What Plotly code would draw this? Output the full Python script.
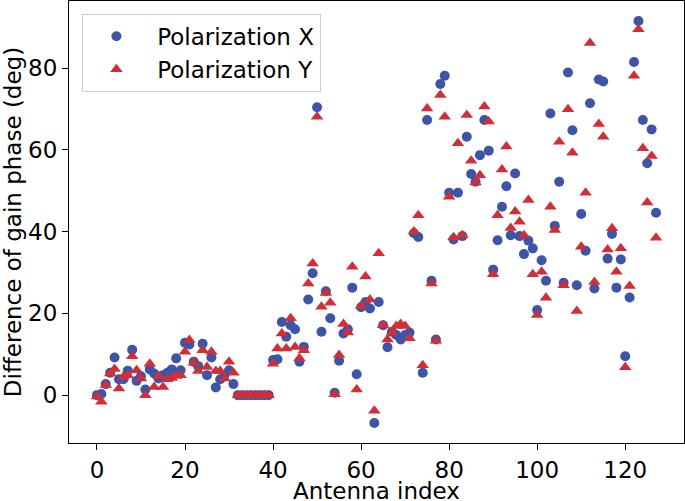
import plotly.graph_objects as go

antenna = list(range(128))

pol_x = [
    0.0, 0.3, 2.7, 5.5, 9.2, 3.9, 3.9, 6.0, 11.1, 3.5,
    4.6, 1.4, 6.3, 5.3, 4.1, 4.9, 5.5, 6.3, 9.0, 6.1,
    12.8, 12.4, 8.2, 7.1, 12.6, 4.9, 9.2, 1.9, 3.9, 5.0,
    6.1, 2.7, 0.0, 0.0, 0.0, 0.0, 0.0, 0.0, 0.0, 0.0,
    8.6, 8.8, 17.9, 14.3, 17.1, 16.1, 8.2, 11.8, 23.4, 29.8,
    70.4, 15.5, 25.4, 18.8, 0.6, 8.4, 15.1, 16.1, 26.3, 5.1,
    21.5, 22.8, 21.2, -6.8, 22.8, 17.1, 11.7, 15.5, 14.7, 13.6,
    14.7, 15.3, 39.6, 38.7, 5.5, 67.3, 28.0, 13.6, 76.1, 78.1,
    49.5, 38.1, 49.5, 38.9, 63.2, 54.1, 52.2, 58.7, 67.3, 59.8,
    30.7, 37.9, 46.1, 51.1, 39.1, 54.2, 38.9, 34.5, 37.8, 35.9,
    20.8, 33.0, 28.0, 68.9, 41.4, 52.2, 27.5, 78.9, 64.8, 26.9,
    44.3, 35.3, 71.4, 26.1, 77.2, 76.7, 33.4, 39.4, 26.3, 33.2,
    9.5, 23.9, 81.5, 91.5, 67.3, 56.7, 65.0, 44.6,
]

pol_y = [
    -0.3, -1.6, 2.5, 5.3, 6.4, 1.6, 4.5, 4.9, 9.5, 6.1,
    4.1, 0.0, 7.7, 2.0, 4.6, 2.0, 3.9, 4.2, 4.7, 4.9,
    10.6, 13.5, 7.9, 5.9, 11.0, 6.9, 10.6, 5.9, 5.9, 4.1,
    8.2, 5.5, 0.0, 0.0, 0.0, 0.0, 0.0, 0.0, 0.0, 0.0,
    7.7, 11.4, 15.1, 11.4, 18.8, 11.8, 9.0, 11.0, 27.3, 32.2,
    68.1, 21.6, 25.0, 22.6, 0.2, 9.8, 17.4, 15.3, 31.4, 1.4,
    21.8, 29.0, 23.4, -3.8, 34.7, 17.1, 13.6, 15.3, 16.9, 17.4,
    16.9, 13.9, 40.0, 44.0, 7.3, 70.1, 27.3, 13.3, 73.4, 68.1,
    48.5, 38.6, 61.6, 39.1, 68.5, 57.3, 52.0, 53.8, 70.6, 66.9,
    29.6, 44.0, 55.2, 60.8, 40.9, 44.9, 42.4, 39.1, 47.7, 29.6,
    19.6, 30.2, 23.8, 46.1, 40.4, 62.0, 26.9, 69.9, 59.3, 20.6,
    36.3, 49.5, 86.1, 27.7, 66.3, 63.2, 35.6, 40.8, 30.2, 35.9,
    6.8, 26.7, 78.1, 89.5, 60.4, 47.1, 58.5, 38.5,
]

x_ticks = [0, 20, 40, 60, 80, 100, 120]
y_ticks = [0, 20, 40, 60, 80]
x_title = "Antenna index"
y_title = "Difference of gain phase (deg)"

FONT = "DejaVu Sans"
BLUE = "#3D55A6"
RED = "#D12F38"

fig = go.Figure()
fig.add_trace(go.Scatter(
    x=antenna, y=pol_x, mode="markers", name="\u00a0Polarization X",
    marker=dict(symbol="circle", size=10, color=BLUE, line=dict(width=0)),
))
fig.add_trace(go.Scatter(
    x=antenna, y=pol_y, mode="markers", name="\u00a0Polarization Y",
    marker=dict(symbol="triangle-up", size=11, color=RED, line=dict(width=0)),
))

axis_common = dict(
    showgrid=False, zeroline=False, showline=True, linecolor="black",
    linewidth=1.2, mirror=True, ticks="outside", ticklen=6, tickwidth=1.2,
    tickcolor="black", tickfont=dict(family=FONT, size=23, color="black"),
    automargin=False,
)

fig.update_layout(
    width=685, height=501,
    margin=dict(l=69, r=1, t=1, b=58),
    paper_bgcolor="white", plot_bgcolor="white",
    font=dict(family=FONT, color="black"),
    xaxis=dict(
        range=[-6.35, 133.35], tickmode="array", tickvals=x_ticks,
        **axis_common,
    ),
    yaxis=dict(
        range=[-11.7, 96.4], tickmode="array", tickvals=y_ticks,
        title=dict(text=y_title, font=dict(family=FONT, size=23), standoff=6),
        **axis_common,
    ),
    legend=dict(
        x=0.021, y=0.971, xanchor="left", yanchor="top",
        bgcolor="white", bordercolor="#CCCCCC", borderwidth=1,
        font=dict(family=FONT, size=23, color="black"),
        itemwidth=57, tracegroupgap=0,
    ),
    showlegend=True,
    annotations=[dict(
        text=x_title, xref="paper", yref="paper", x=0.5, y=0,
        xanchor="center", yanchor="middle", yshift=-48, showarrow=False,
        font=dict(family=FONT, size=23, color="black"),
    )],
)

fig.write_html(
    "out.html",
    config={"displayModeBar": False},
    post_script="document.body.style.margin='0';document.body.style.overflow='hidden';",
)
